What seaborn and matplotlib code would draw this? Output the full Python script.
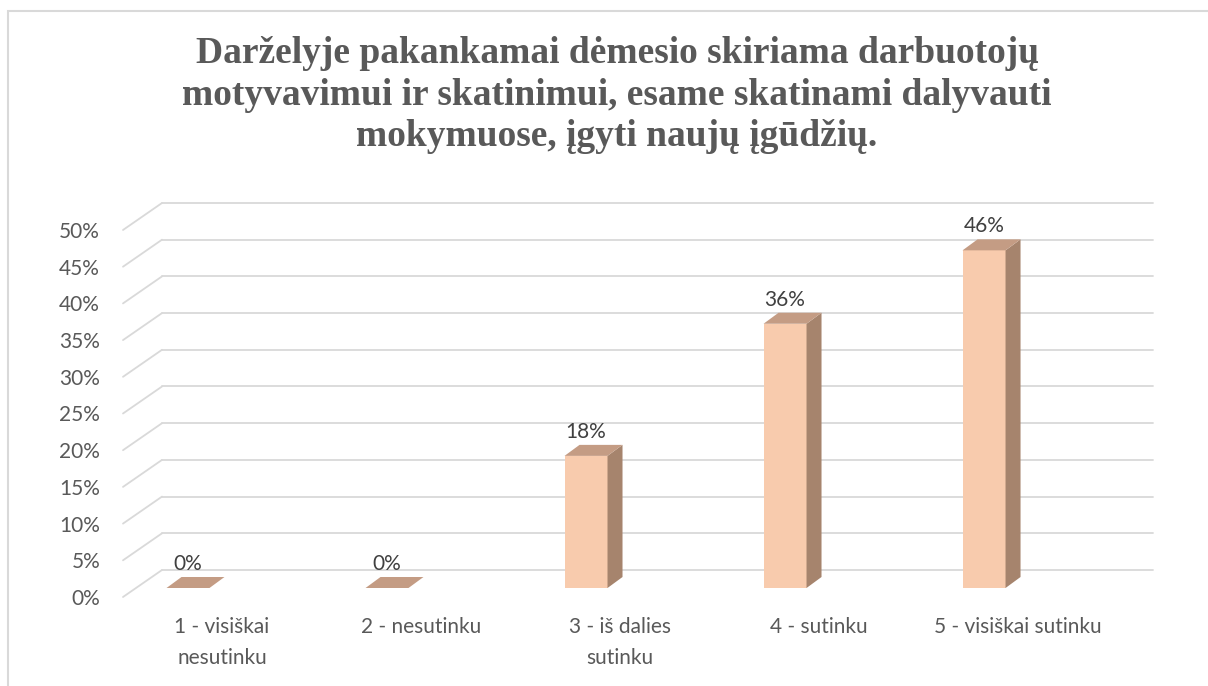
import matplotlib
matplotlib.use("Agg")
import matplotlib.pyplot as plt
import matplotlib.transforms as mtransforms
from matplotlib.patches import Polygon, Rectangle
import seaborn as sns
import pandas as pd

# data
categories = ["1 - visiškai\nnesutinku", "2 - nesutinku", "3 - iš dalies\nsutinku",
              "4 - sutinku", "5 - visiškai sutinku"]
values = [0.0, 0.0, 0.18, 0.36, 0.46]
labels = ["0%", "0%", "18%", "36%", "46%"]
y_ticks = [0, 0.05, 0.10, 0.15, 0.20, 0.25, 0.30, 0.35, 0.40, 0.45, 0.50]
title = ("Darželyje pakankamai dėmesio skiriama darbuotojų\n"
         "motyvavimui ir skatinimui, esame skatinami dalyvauti\n"
         "mokymuose, įgyti naujų įgūdžių.")

df = pd.DataFrame({"cat": categories, "val": values})

sns.set_style("white")
W, H, DPI = 1208, 686, 100
fig = plt.figure(figsize=(W / DPI, H / DPI), dpi=DPI)

# axes placed in pixels (left, top, right, bottom)
L, T, R, B = 123, 200, 1153, 597
ax = fig.add_axes([L / W, 1 - B / H, (R - L) / W, (B - T) / H])

front = "#F8CBAD"
side = "#A6846D"
top = "#C49C84"
fs = 15

sns.barplot(data=df, x="cat", y="val", color=front, width=0.216,
            saturation=1, ax=ax, zorder=3, linewidth=0)

ax.set_xlim(-0.3266, 4.849)
ax.set_ylim(-0.01226, 0.5286)
for s in ax.spines.values():
    s.set_visible(False)
ax.set_xlabel("")
ax.set_ylabel("")

# pixel -> data scale
p0 = ax.transData.transform((0, 0))
p1 = ax.transData.transform((1, 1))
sx = p1[0] - p0[0]
sy = p1[1] - p0[1]

# walls: back wall horizontal lines + slanted side wall
grid_c = "#D9D9D9"
back_dy = 18      # back wall above bar plane (px)
front_dy = -9     # front edge below bar plane (px)
x_left, x_right = ax.get_xlim()
xb = x_left + 39 / sx
for v in y_ticks:
    ax.plot([x_left, xb], [v + front_dy / sy, v + back_dy / sy],
            color=grid_c, lw=1.3, zorder=1, clip_on=False)
    ax.plot([xb, x_right], [v + back_dy / sy, v + back_dy / sy],
            color=grid_c, lw=1.3, zorder=1, clip_on=False)

# 3d faces of bars
ddx, ddy = 15 / sx, 11 / sy
for p, lab in zip(ax.patches, labels):
    x0 = p.get_x()
    w = p.get_width()
    h = p.get_height()
    ax.add_patch(Polygon([(x0 + w, 0), (x0 + w, h), (x0 + w + ddx, h + ddy),
                          (x0 + w + ddx, ddy)], closed=True, facecolor=side,
                         edgecolor="none", zorder=3))
    ax.add_patch(Polygon([(x0, h), (x0 + w, h), (x0 + w + ddx, h + ddy),
                          (x0 + ddx, h + ddy)], closed=True, facecolor=top,
                         edgecolor="none", zorder=3))
    ax.text(x0 + w / 2, h + 18 / sy, lab, ha="center", va="baseline",
            fontsize=fs, color="#404040", family="Lato", zorder=4)

# ticks
ax.set_yticks(y_ticks)
ax.set_yticklabels([f"{int(round(v * 100))}%" for v in y_ticks])
ax.tick_params(axis="y", length=0, pad=16.5, labelsize=fs, labelcolor="#595959")
ax.tick_params(axis="x", length=0, pad=14.5, labelsize=fs, labelcolor="#595959")
off_y = mtransforms.ScaledTranslation(0, front_dy / DPI, fig.dpi_scale_trans)
for t in ax.get_yticklabels():
    t.set_transform(t.get_transform() + off_y)
    t.set_family("Lato")
off_x = mtransforms.ScaledTranslation(34 / DPI, 0, fig.dpi_scale_trans)
for t in ax.get_xticklabels():
    t.set_transform(t.get_transform() + off_x)
    t.set_family("Lato")
    t.set_linespacing(1.7)

fig.text(617 / W, 1 - 36 / H, title, ha="center", va="top", fontsize=27,
         fontweight="bold", family="Liberation Serif", color="#595959",
         linespacing=1.25)

# chart frame
fig.patches.append(Rectangle((8 / W, -0.05), 1.2, 1 - 11 / H + 0.05,
                             transform=fig.transFigure, fill=False,
                             edgecolor="#D9D9D9", lw=1.5))

fig.savefig("out.png", dpi=DPI)
